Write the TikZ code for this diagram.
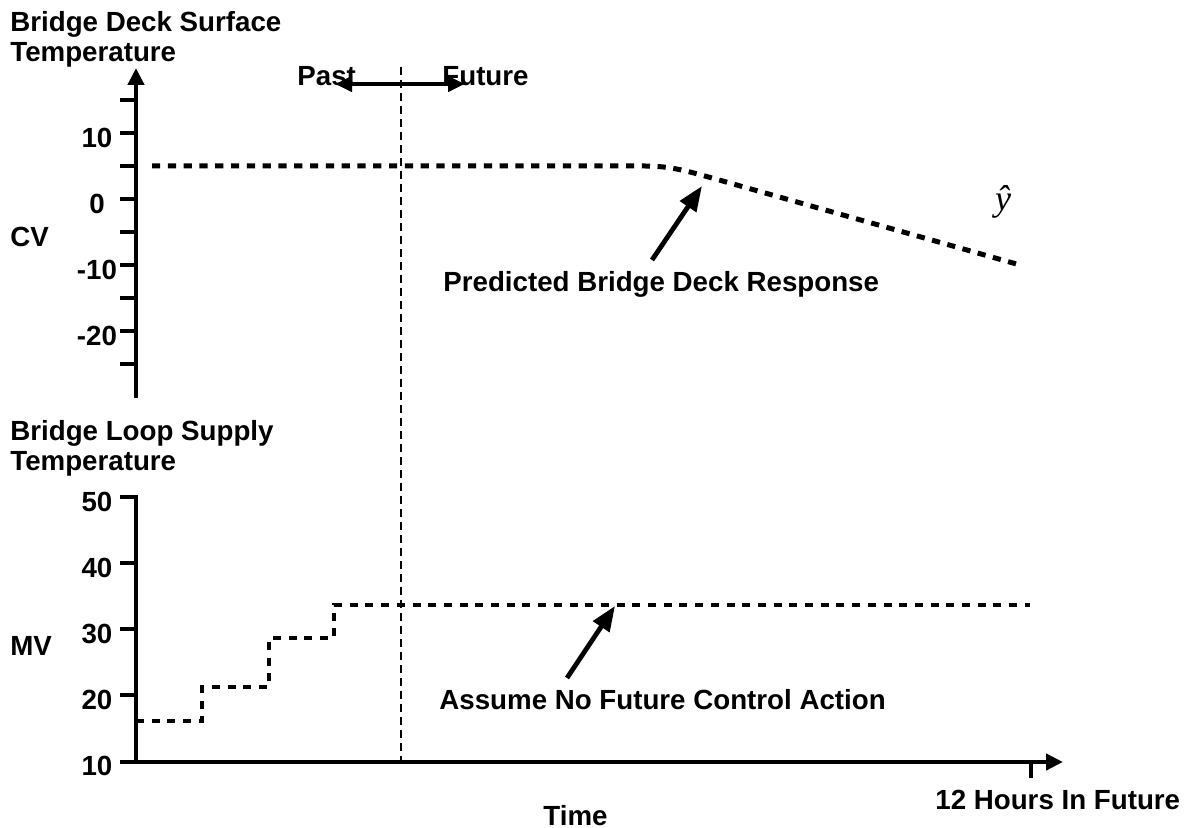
\documentclass[tikz,border=0pt]{standalone}
\usepackage{fontspec}
\setmainfont{Liberation Sans}
\newfontfamily\estfont{Liberation Serif}
\usetikzlibrary{arrows.meta}
\begin{document}
\begin{tikzpicture}[x=0.5pt,y=-0.5pt,
  lbl/.style={font=\fontsize{13.85}{15}\selectfont\bfseries, inner sep=0pt},
  ticklabel/.style={lbl, anchor=base},
  axisline/.style={line width=2.2pt},
  axisarrow/.style={-{Triangle[length=8.5pt,width=8pt]}},
  trend/.style={line width=2.5pt, dash pattern=on 4.1pt off 3.8pt},
  mvtrend/.style={line width=2.4pt, dash pattern=on 4pt off 3.85pt},
  nowline/.style={line width=0.65pt, dash pattern=on 4pt off 2.5pt},
  pointer/.style={line width=2.4pt, -{Triangle[length=12.5pt,width=9.5pt]}},
  timespan/.style={line width=2.2pt,
    {Triangle[length=8.5pt,width=7.5pt]}-{Triangle[length=8.5pt,width=7.5pt]}}]
\useasboundingbox (0,0) rectangle (1195,828);

% ---------- upper panel: controlled variable ----------
\node[lbl, anchor=north west, align=left] (cvtitle) at (10,11.5)
  {Bridge Deck Surface\\Temperature};
\node[lbl, anchor=base west] (cvname) at (10,247) {CV};

\coordinate (cvbot) at (136,398);
\coordinate (cvtop) at (136,68);
\draw[axisline, axisarrow] (cvbot) -- (cvtop);
\foreach \v in {15,10,...,-25}
  \draw[axisline] (120,{199-6.6*\v}) -- (136,{199-6.6*\v});
\foreach \v/\n in {10/a,0/b,-10/c,-20/d}
  \node[ticklabel] (cvtick\n) at (97,{199-6.6*\v+14.5}) {\v};

% predicted response
\draw[trend] (152,166) -- (645,166) .. controls (672,166) and (690,172) .. (712,178) -- (1020,265);
\node[inner sep=0pt, font=\fontsize{18}{18}\estfont\itshape] (yhat) at (1003,202) {ŷ};

\node[lbl, anchor=base west] (predlbl) at (443,292) {Predicted Bridge Deck Response};
\coordinate (predtail) at (652,260);
\coordinate (predhead) at (702,186);
\draw[pointer] (predtail) -- (predhead);

% ---------- present time marker ----------
\coordinate (nowtop) at (401,67);
\coordinate (nowbot) at (401,762);
\draw[nowline] (nowtop) -- (nowbot);
\node[lbl, anchor=base west] (pastlbl) at (297,86) {Past};
\node[lbl, anchor=base west] (futlbl) at (442,86) {Future};
\coordinate (spanl) at (335,84);
\coordinate (spanr) at (465,84);
\draw[timespan] (spanl) -- (spanr);

% ---------- lower panel: manipulated variable ----------
\node[lbl, anchor=north west, align=left] (mvtitle) at (10,420)
  {Bridge Loop Supply\\Temperature};
\node[lbl, anchor=base west] (mvname) at (10,655) {MV};

\draw[axisline] (120,497) -- (136,497) -- (136,762);
\foreach \v in {20,30,40}
  \draw[axisline] (120,{761-6.6*(\v-10)}) -- (136,{761-6.6*(\v-10)});
\foreach \v in {10,20,30,40,50}
  \node[ticklabel] (mvtick\v) at (97,{761-6.6*(\v-10)+14.5}) {\v};

% time axis
\coordinate (tstart) at (120,762);
\coordinate (tend) at (1063,762);
\draw[axisline, axisarrow] (tstart) -- (tend);
\draw[axisline] (1031,762) -- (1031,778);
\node[lbl, anchor=base west] (horizon) at (935,809) {12 Hours In Future};
\node[lbl, anchor=base west] (timelbl) at (543,825) {Time};

% past moves and held future value
\draw[mvtrend] (136,721) -- (202,721) -- (202,687) -- (269,687) -- (269,638)
  -- (334,638) -- (334,605) -- (1030,605);

\node[lbl, anchor=base west] (holdlbl) at (439,710) {Assume No Future Control Action};
\coordinate (holdtail) at (567,678);
\coordinate (holdhead) at (615,606);
\draw[pointer] (holdtail) -- (holdhead);
\end{tikzpicture}
\end{document}
